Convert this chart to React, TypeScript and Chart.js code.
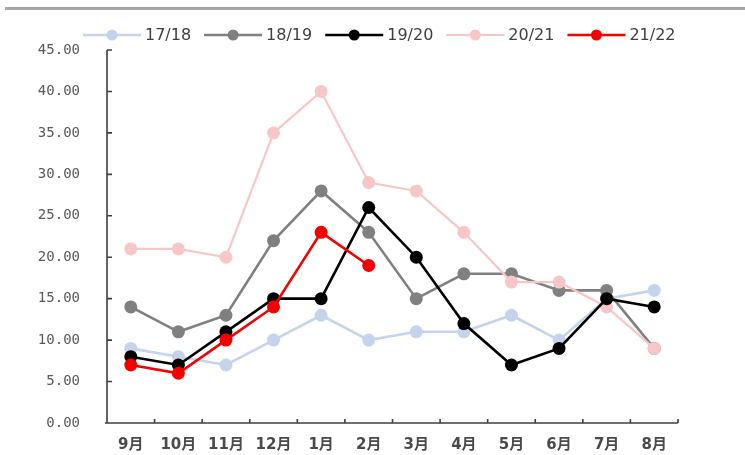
import React, { useEffect, useRef } from "react";
import { Chart, registerables } from "chart.js";

Chart.register(...registerables);

// Months of the season, September to August
const months = ["9月", "10月", "11月", "12月", "1月", "2月", "3月", "4月", "5月", "6月", "7月", "8月"];

// Seasonal values per month
const season1718 = [9, 8, 7, 10, 13, 10, 11, 11, 13, 10, 15, 16];
const season1819 = [14, 11, 13, 22, 28, 23, 15, 18, 18, 16, 16, 9];
const season1920 = [8, 7, 11, 15, 15, 26, 20, 12, 7, 9, 15, 14];
const season2021 = [21, 21, 20, 35, 40, 29, 28, 23, 17, 17, 14, 9];
const season2122 = [7, 6, 10, 14, 23, 19];

const seriesLabels = ["17/18", "18/19", "19/20", "20/21", "21/22"];
const seriesColors = ["#c5d4ec", "#808080", "#000000", "#f7c6c6", "#f50000"];

const yMin = 0;
const yMax = 45;
const yStep = 5;

const W = 745;
const H = 455;

// Axis lines with short inward tick marks
const axisFrame = {
  id: "axisFrame",
  beforeDatasetsDraw(chart: any) {
    const { ctx, chartArea, scales } = chart;
    const { left, right, top, bottom } = chartArea;
    const x = scales.x;
    const y = scales.y;
    ctx.save();
    ctx.strokeStyle = "#3f3f3f";
    ctx.lineWidth = 1.6;
    ctx.beginPath();
    ctx.moveTo(left, top);
    ctx.lineTo(left, bottom);
    ctx.moveTo(left - 2, bottom);
    ctx.lineTo(right, bottom);
    y.ticks.forEach((t: any) => {
      const py = y.getPixelForValue(t.value);
      ctx.moveTo(left, py);
      ctx.lineTo(left + 5, py);
    });
    for (let i = 0; i <= months.length; i++) {
      const px = x.getPixelForValue(i - 0.5);
      ctx.moveTo(px, bottom);
      ctx.lineTo(px, bottom - 4);
    }
    ctx.stroke();
    ctx.restore();
  },
};

// Legend: line-and-dot swatch followed by the series name
const lineLegend = {
  id: "lineLegend",
  afterDraw(chart: any) {
    const { ctx } = chart;
    const startX = 83;
    const cy = 35;
    const swatch = 58;
    const textGap = 4;
    const itemGap = 13;
    ctx.save();
    ctx.font = "16px 'DejaVu Sans'";
    ctx.textBaseline = "middle";
    ctx.textAlign = "left";
    let cx = startX;
    chart.data.datasets.forEach((ds: any) => {
      ctx.strokeStyle = ds.borderColor;
      ctx.lineWidth = ds.borderWidth;
      ctx.beginPath();
      ctx.moveTo(cx, cy);
      ctx.lineTo(cx + swatch, cy);
      ctx.stroke();
      ctx.fillStyle = ds.pointBackgroundColor;
      ctx.beginPath();
      ctx.arc(cx + swatch / 2, cy, 5.5, 0, Math.PI * 2);
      ctx.fill();
      ctx.fillStyle = "#404040";
      const tx = cx + swatch + textGap;
      ctx.fillText(ds.label, tx, cy + 1);
      cx = tx + ctx.measureText(ds.label).width + itemGap;
    });
    ctx.restore();
  },
};

export default function App() {
  const canvasRef = useRef<HTMLCanvasElement | null>(null);

  useEffect(() => {
    document.body.style.margin = "0";
    const canvas = canvasRef.current;
    if (!canvas) return;

    const seriesData = [season1718, season1819, season1920, season2021, season2122];
    const drawOrder = [4, 3, 1, 2, 0];

    const datasets = seriesData.map((values, i) => ({
      label: seriesLabels[i],
      data: values,
      borderColor: seriesColors[i],
      backgroundColor: seriesColors[i],
      pointBackgroundColor: seriesColors[i],
      pointBorderColor: seriesColors[i],
      pointBorderWidth: 0,
      pointRadius: 6.5,
      pointHoverRadius: 6.5,
      borderWidth: i === 3 ? 2.2 : 2.6,
      tension: 0,
      fill: false,
      order: drawOrder[i],
    }));

    const chart = new Chart(canvas, {
      type: "line",
      data: { labels: months, datasets },
      plugins: [axisFrame, lineLegend],
      options: {
        responsive: false,
        animation: false,
        devicePixelRatio: 1,
        layout: { padding: { left: 0, right: 67, top: 50, bottom: 0 } },
        plugins: {
          legend: { display: false },
          tooltip: { enabled: false },
        },
        scales: {
          x: {
            type: "category",
            offset: true,
            grid: { display: false, drawTicks: false },
            border: { display: false },
            ticks: {
              color: "#4a4a4a",
              font: { family: "'DejaVu Sans', 'Noto Sans CJK SC'", size: 15, weight: "bold" },
              padding: 13,
              maxRotation: 0,
              autoSkip: false,
            },
            afterFit(scale: any) {
              scale.height = 32;
            },
          },
          y: {
            min: yMin,
            max: yMax,
            // tick marks are drawn by axisFrame; tickLength only spaces the labels
            grid: { display: false, drawTicks: true, tickLength: 27 },
            border: { display: false },
            ticks: {
              stepSize: yStep,
              color: "#595959",
              font: { family: "'DejaVu Sans Mono'", size: 14 },
              padding: 0,
              callback: (v: any) => Number(v).toFixed(2),
            },
            afterFit(scale: any) {
              scale.width = 107;
            },
          },
        },
      },
    });

    return () => chart.destroy();
  }, []);

  return (
    <div style={{ position: "relative", width: W, height: H, background: "#ffffff" }}>
      <div
        style={{
          position: "absolute",
          left: 5,
          right: 0,
          top: 7,
          height: 3,
          background: "#a6a6a6",
        }}
      />
      <canvas ref={canvasRef} width={W} height={H} style={{ display: "block" }} />
    </div>
  );
}
